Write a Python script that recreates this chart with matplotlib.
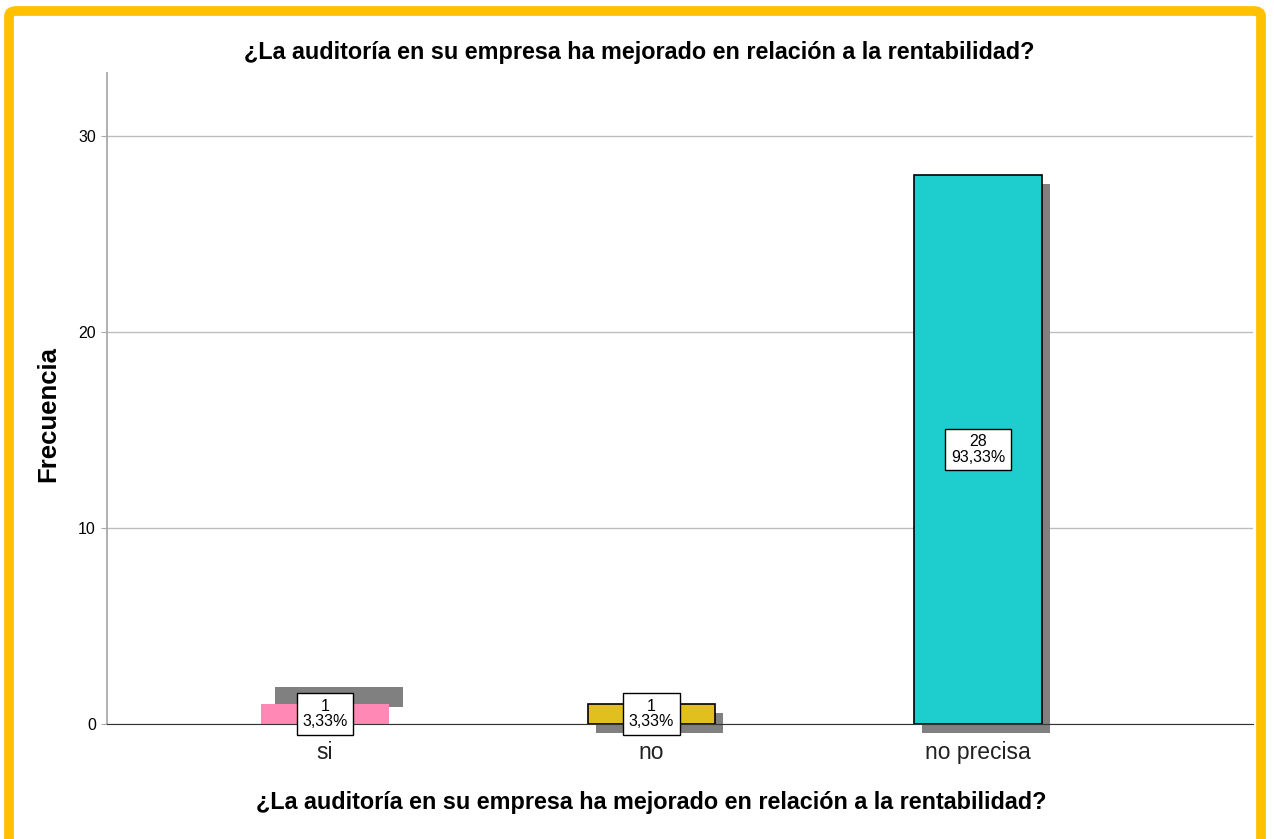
import matplotlib
matplotlib.use("Agg")
import matplotlib.pyplot as plt
import matplotlib.transforms as mtransforms
from matplotlib.patches import FancyBboxPatch

plt.rcParams['font.family'] = ['Liberation Sans', 'DejaVu Sans']

categories = ["si", "no", "no precisa"]
counts = [1, 1, 28]
percents = ["3,33%", "3,33%", "93,33%"]
colors = ["#FF88B4", "#E1BF1F", "#1ECDCD"]
edges = ["none", "black", "black"]
shadow_offsets_px = [(14, 17), (8, -9), (8, -9)]
title = "¿La auditoría en su empresa ha mejorado en relación a la rentabilidad?"

fig = plt.figure(figsize=(12.74, 8.39), dpi=100)
ax = fig.add_axes([107/1274, 1 - 724/839, (1253-107)/1274, (724-73)/839])

x = list(range(len(categories)))
width = 0.39

# shadows
for xi, c, (dx, dy) in zip(x, counts, shadow_offsets_px):
    off = mtransforms.ScaledTranslation(dx/100, dy/100, fig.dpi_scale_trans)
    ax.bar(xi, c, width=width, color="#808080", edgecolor="none",
           transform=ax.transData + off, zorder=2, clip_on=False)

bars = ax.bar(x, counts, width=width, color=colors, zorder=3)
for b, e in zip(bars, edges):
    if e != "none":
        b.set_edgecolor(e)
        b.set_linewidth(1.2)

for xi, c, p in zip(x, counts, percents):
    ax.text(xi, c/2, f"{c}\n{p}", ha="center", va="center", fontsize=11.5,
            linespacing=1.05, zorder=5,
            bbox=dict(boxstyle="square,pad=0.35", fc="white", ec="black", lw=1))

ax.set_xlim(-0.668, 2.842)
ax.set_ylim(0, 33.2)
ax.set_yticks([0, 10, 20, 30])
ax.yaxis.grid(True, color="#BDBDBD", lw=1)
ax.set_axisbelow(True)
ax.set_xticks(x)
ax.set_xticklabels(categories, fontsize=16.5, color="#222222")
ax.tick_params(axis="x", length=0, pad=12)
ax.tick_params(axis="y", labelsize=11.5, length=4, color="#AAAAAA", pad=4)
for s in ["top", "right"]:
    ax.spines[s].set_visible(False)
ax.spines["left"].set_color("#AAAAAA")
ax.spines["left"].set_linewidth(1.3)
ax.spines["bottom"].set_color("#333333")
ax.spines["bottom"].set_zorder(4)

fig.text(639/1274, 1 - 52/839, title, ha="center", va="center",
         fontsize=16.8, fontweight="bold")
fig.text(651/1274, 1 - 803/839, title, ha="center", va="center",
         fontsize=16.8, fontweight="bold")
fig.text(48/1274, 1 - 414/839, "Frecuencia", rotation=90, ha="center", va="center",
         fontsize=18.5, fontweight="bold")

frame = FancyBboxPatch((9/1274, -0.05), (1270-18)/1274, 1 - 11/839 + 0.05,
                       boxstyle="round,pad=0,rounding_size=0.006",
                       transform=fig.transFigure, fill=False, ec="#FFC000", lw=7)
fig.add_artist(frame)

fig.savefig("out.png", dpi=100)
